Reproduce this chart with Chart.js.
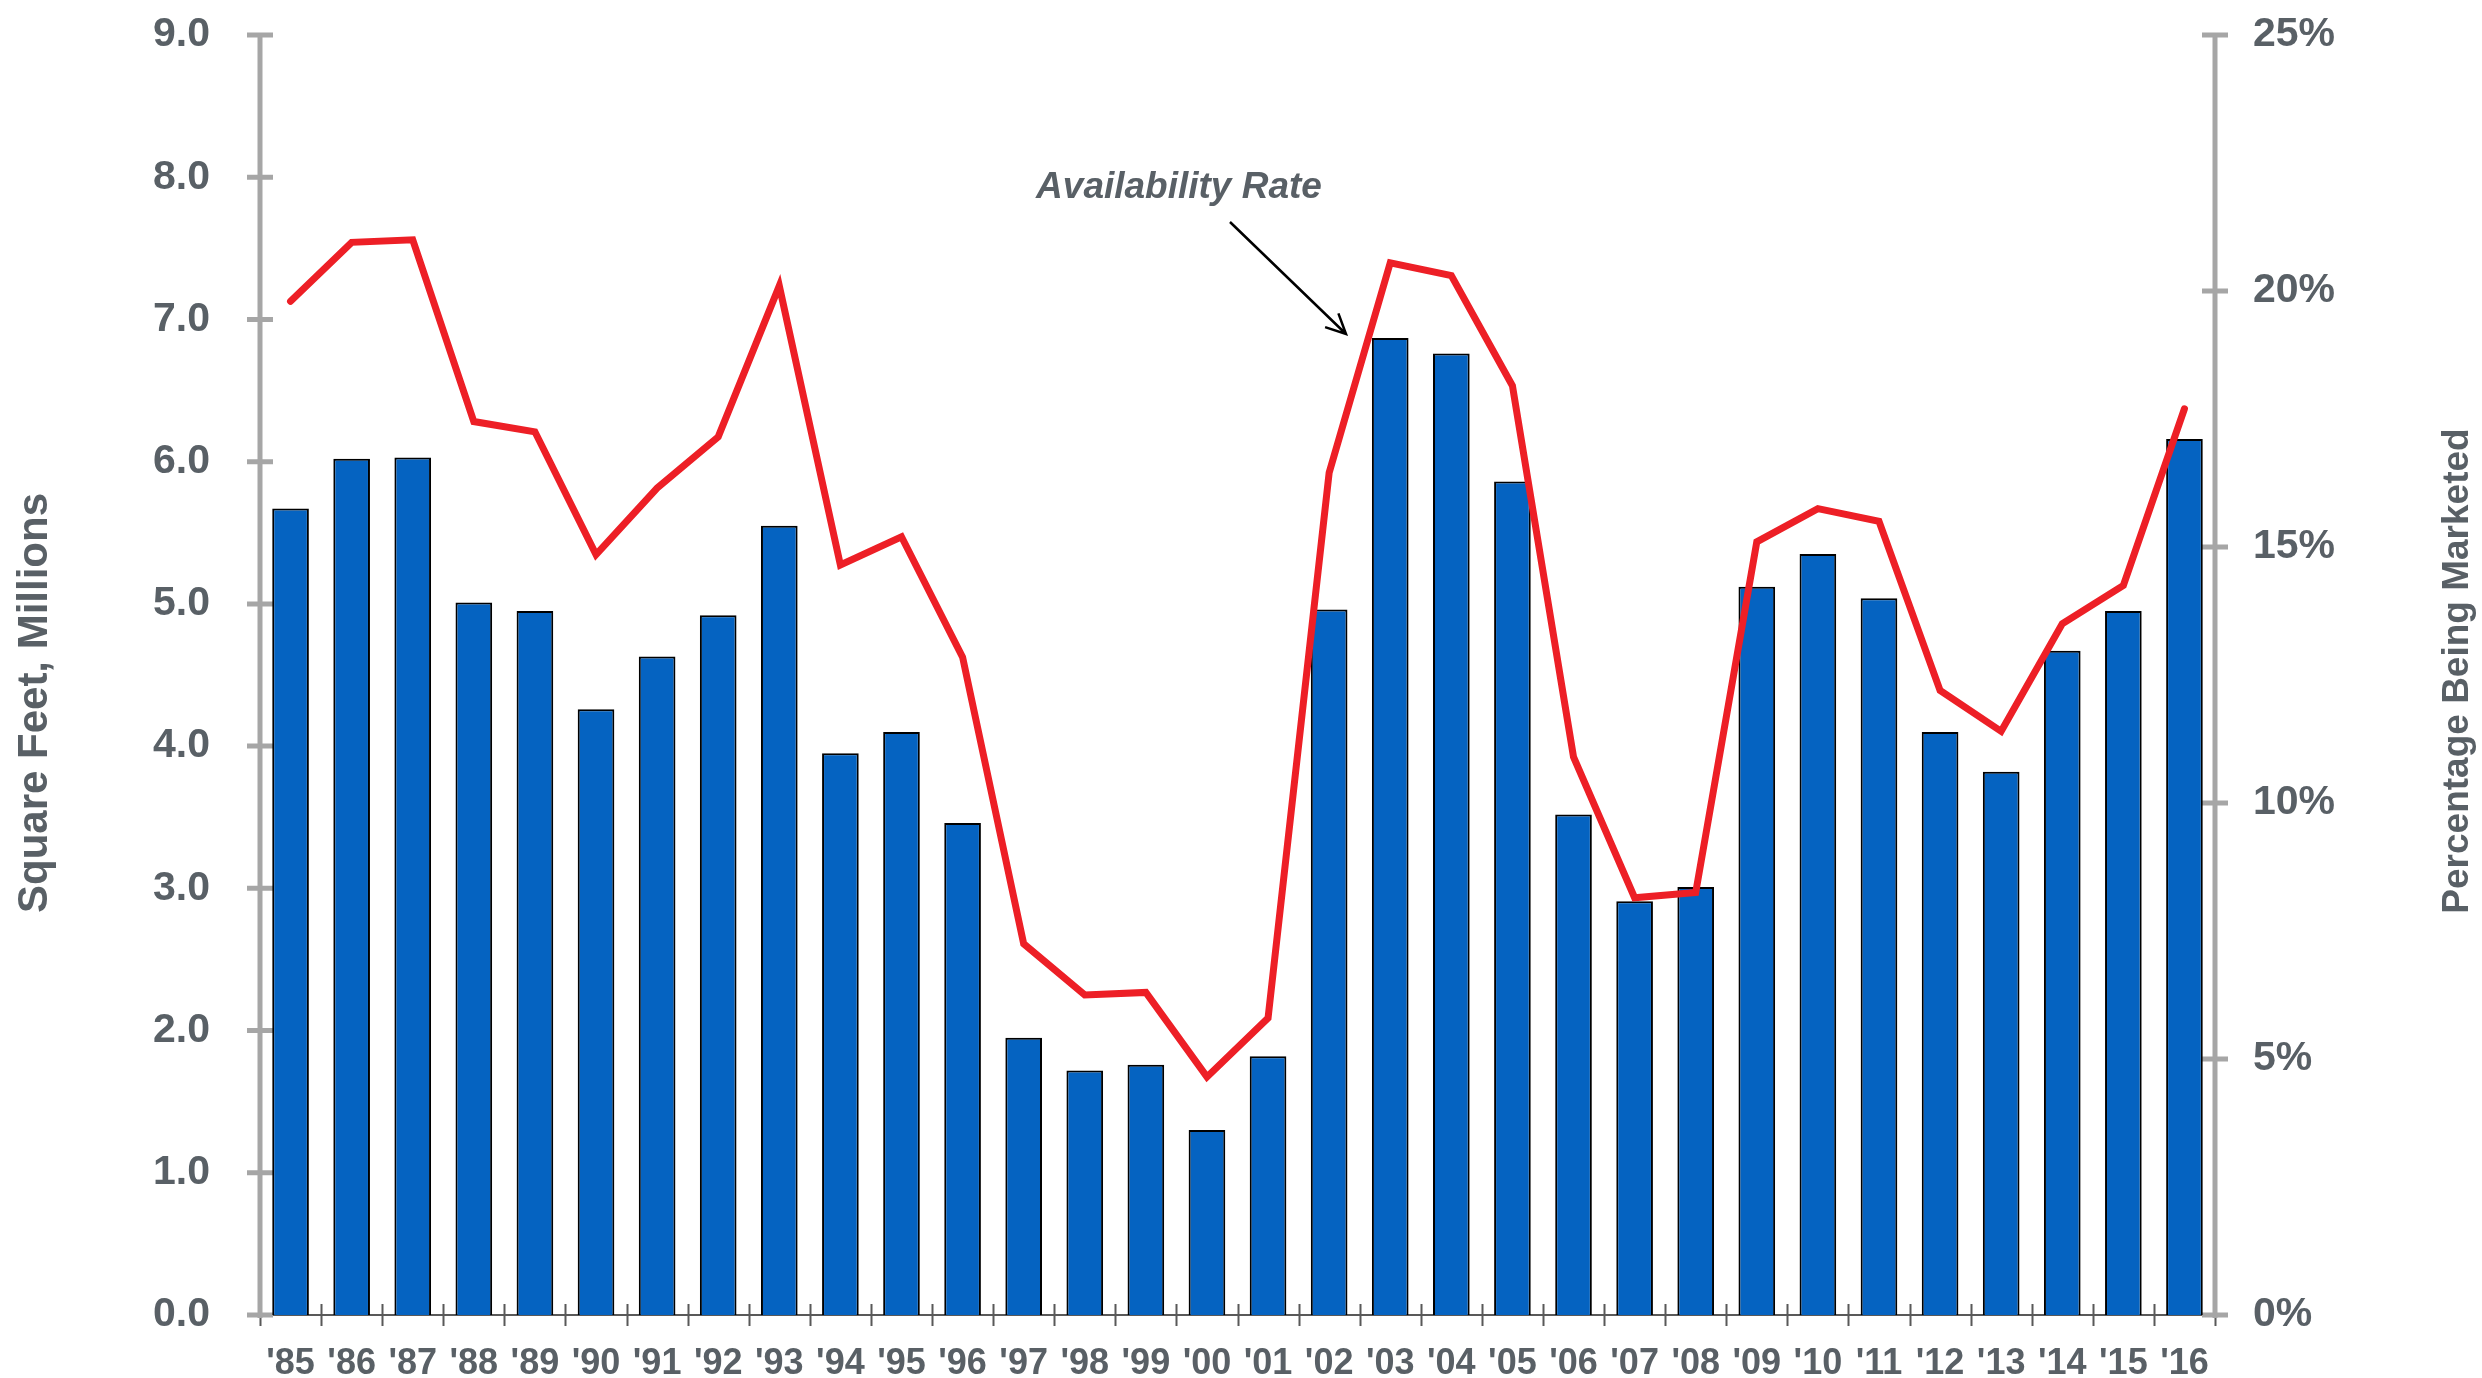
<!DOCTYPE html>
<html>
<head>
<meta charset="utf-8">
<title>Availability Rate</title>
<script src="https://cdn.jsdelivr.net/npm/chart.js@4/dist/chart.umd.min.js"></script>
<style>
  html, body { margin: 0; padding: 0; background: #fff; }
  canvas { display: block; }
</style>
</head>
<body>
<canvas id="chart" width="2482" height="1378"></canvas>
<script>
// data
const years = ["'85", "'86", "'87", "'88", "'89", "'90", "'91", "'92", "'93", "'94", "'95", "'96",
  "'97", "'98", "'99", "'00", "'01", "'02", "'03", "'04", "'05", "'06", "'07", "'08",
  "'09", "'10", "'11", "'12", "'13", "'14", "'15", "'16"];
const sqFeet = [5.67, 6.02, 6.03, 5.01, 4.95, 4.26, 4.63, 4.92, 5.55, 3.95, 4.10, 3.46,
  1.95, 1.72, 1.76, 1.30, 1.82, 4.96, 6.87, 6.76, 5.86, 3.52, 2.91, 3.01,
  5.12, 5.35, 5.04, 4.10, 3.82, 4.67, 4.95, 6.16];
const availability = [19.8, 20.95, 21.0, 17.45, 17.25, 14.85, 16.15, 17.15, 20.1, 14.65, 15.2, 12.85,
  7.25, 6.25, 6.3, 4.65, 5.8, 16.45, 20.55, 20.3, 18.15, 10.9, 8.15, 8.25,
  15.1, 15.75, 15.5, 12.2, 11.4, 13.5, 14.25, 17.7];
const leftRange = [0, 9, 1];
const rightRange = [0, 25, 5];
const leftTitle = 'Square Feet, Millions';
const rightTitle = 'Percentage Being Marketed';
const note = 'Availability Rate';

const FONT = '"Liberation Sans", Arial, sans-serif';
const GREY_TEXT = '#596066';
const AXIS_GREY = '#a6a6a6';

// axis lines with ticks that cross the line, titles and the arrow note
const decorations = {
  id: 'decorations',
  beforeDatasetsDraw(chart) {
    const { ctx, chartArea: a, scales } = chart;
    const { x, y, y1 } = scales;
    ctx.save();
    // bottom axis
    ctx.strokeStyle = '#595959';
    ctx.lineWidth = 2;
    ctx.beginPath();
    ctx.moveTo(a.left - 13, a.bottom);
    ctx.lineTo(a.right + 13, a.bottom);
    for (let i = 0; i <= years.length; i++) {
      const px = Math.round(x.getPixelForValue(i - 0.5)) + 0.5;
      ctx.moveTo(px, a.bottom - 11);
      ctx.lineTo(px, a.bottom + 11);
    }
    ctx.stroke();
    // value axes
    ctx.strokeStyle = AXIS_GREY;
    ctx.lineWidth = 5;
    [[y, a.left], [y1, a.right]].forEach(([s, ax]) => {
      ctx.beginPath();
      ctx.moveTo(ax, s.getPixelForValue(s.max));
      ctx.lineTo(ax, a.bottom + 3);
      s.ticks.forEach(t => {
        const py = s.getPixelForValue(t.value);
        ctx.moveTo(ax - 13, py);
        ctx.lineTo(ax + 13, py);
      });
      ctx.stroke();
    });
    ctx.restore();
  },
  afterDraw(chart) {
    const { ctx } = chart;
    ctx.save();
    ctx.fillStyle = GREY_TEXT;
    ctx.textAlign = 'center';
    ctx.textBaseline = 'alphabetic';

    ctx.save();
    ctx.translate(47, 703);
    ctx.rotate(-Math.PI / 2);
    ctx.font = 'bold 42px ' + FONT;
    ctx.fillText(leftTitle, 0, 0);
    ctx.restore();

    ctx.save();
    ctx.translate(2468, 671);
    ctx.rotate(-Math.PI / 2);
    ctx.font = 'bold 37px ' + FONT;
    ctx.fillText(rightTitle, 0, 0);
    ctx.restore();

    ctx.font = 'italic bold 37px ' + FONT;
    ctx.fillText(note, 1179, 198);

    // arrow
    const x0 = 1230, y0 = 222, x1 = 1346, y1 = 334;
    const ang = Math.atan2(y1 - y0, x1 - x0);
    ctx.strokeStyle = '#000';
    ctx.lineWidth = 2.5;
    ctx.beginPath();
    ctx.moveTo(x0, y0);
    ctx.lineTo(x1, y1);
    ctx.moveTo(x1 - 22 * Math.cos(ang - 0.45), y1 - 22 * Math.sin(ang - 0.45));
    ctx.lineTo(x1, y1);
    ctx.lineTo(x1 - 22 * Math.cos(ang + 0.45), y1 - 22 * Math.sin(ang + 0.45));
    ctx.stroke();
    ctx.restore();
  }
};

// fixed axis sizes so the plot area lands where it does in the reference
function fixSize(w, h) {
  return function (s) {
    if (w !== null) s.width = w;
    if (h !== null) s.height = h;
    s.paddingTop = 0;
    s.paddingBottom = 0;
    s.paddingLeft = 0;
    s.paddingRight = 0;
  };
}

const ctx = document.getElementById('chart').getContext('2d');
new Chart(ctx, {
  data: {
    labels: years,
    datasets: [
      {
        type: 'line',
        label: 'Availability Rate',
        data: availability,
        yAxisID: 'y1',
        borderColor: '#ed1f26',
        borderWidth: 7,
        borderCapStyle: 'round',
        pointRadius: 0,
        tension: 0,
        order: 0
      },
      {
        type: 'bar',
        label: 'Square Feet',
        data: sqFeet,
        yAxisID: 'y',
        backgroundColor: '#0563c1',
        borderColor: '#000',
        borderWidth: 2,
        barPercentage: 0.6,
        categoryPercentage: 1,
        order: 1
      }
    ]
  },
  options: {
    responsive: false,
    animation: false,
    layout: { padding: { top: 35, left: 0, right: 0, bottom: 0 } },
    plugins: {
      legend: { display: false },
      tooltip: { enabled: false }
    },
    scales: {
      x: {
        grid: { display: false, drawTicks: false },
        border: { display: false },
        ticks: {
          color: GREY_TEXT,
          font: { family: FONT, size: 36, weight: 'bold' },
          padding: 27,
          maxRotation: 0,
          autoSkip: false
        },
        afterFit: fixSize(null, 63)
      },
      y: {
        position: 'left',
        min: leftRange[0],
        max: leftRange[1],
        grid: { display: false, drawTicks: false },
        border: { display: false },
        ticks: {
          stepSize: leftRange[2],
          color: GREY_TEXT,
          font: { family: FONT, size: 41, weight: 'bold' },
          padding: 50,
          callback: v => v.toFixed(1)
        },
        afterFit: fixSize(260, null)
      },
      y1: {
        position: 'right',
        min: rightRange[0],
        max: rightRange[1],
        grid: { display: false, drawTicks: false },
        border: { display: false },
        ticks: {
          stepSize: rightRange[2],
          color: GREY_TEXT,
          font: { family: FONT, size: 41, weight: 'bold' },
          padding: 38,
          callback: v => v + '%'
        },
        afterFit: fixSize(267, null)
      }
    }
  },
  plugins: [decorations]
});
</script>
</body>
</html>
